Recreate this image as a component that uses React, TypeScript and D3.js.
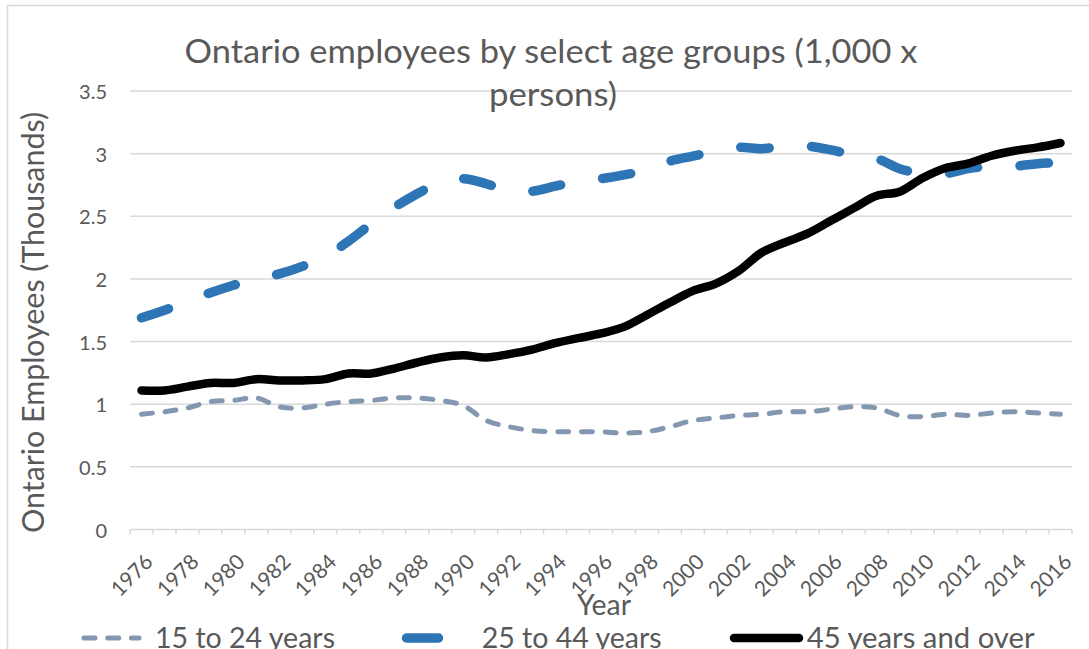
import React from 'react';
import * as d3 from 'd3';

const years = [
  1976, 1977, 1978, 1979, 1980, 1981, 1982, 1983, 1984, 1985, 1986, 1987, 1988, 1989,
  1990, 1991, 1992, 1993, 1994, 1995, 1996, 1997, 1998, 1999, 2000, 2001, 2002, 2003,
  2004, 2005, 2006, 2007, 2008, 2009, 2010, 2011, 2012, 2013, 2014, 2015, 2016,
];

const age15to24 = [
  0.92, 0.94, 0.97, 1.02, 1.03, 1.05, 0.98, 0.97, 1.0, 1.02, 1.03, 1.05, 1.05, 1.03,
  0.99, 0.87, 0.82, 0.79, 0.78, 0.78, 0.78, 0.77, 0.78, 0.82, 0.87, 0.89, 0.91, 0.92,
  0.94, 0.94, 0.96, 0.98, 0.97, 0.91, 0.9, 0.92, 0.91, 0.93, 0.94, 0.93, 0.92,
];

const age25to44 = [
  1.69, 1.75, 1.82, 1.89, 1.95, 2.0, 2.04, 2.1, 2.18, 2.3, 2.44, 2.57, 2.68, 2.77,
  2.8, 2.76, 2.7, 2.7, 2.74, 2.78, 2.8, 2.83, 2.87, 2.94, 2.98, 3.02, 3.05, 3.04,
  3.06, 3.06, 3.03, 2.99, 2.96, 2.88, 2.84, 2.84, 2.88, 2.9, 2.9, 2.92, 2.93,
];

const age45plus = [
  1.11, 1.11, 1.14, 1.17, 1.17, 1.2, 1.19, 1.19, 1.2, 1.245, 1.245, 1.285, 1.333, 1.373,
  1.391, 1.373, 1.4, 1.436, 1.487, 1.527, 1.565, 1.617, 1.713, 1.812, 1.905, 1.963, 2.065, 2.211,
  2.291, 2.363, 2.464, 2.565, 2.664, 2.696, 2.805, 2.885, 2.922, 2.983, 3.023, 3.05, 3.085,
];

const yTicks = [0, 0.5, 1, 1.5, 2, 2.5, 3, 3.5];
const yTickLabels = ['0', '0.5', '1', '1.5', '2', '2.5', '3', '3.5'];
const titleLines = ['Ontario employees by select age groups (1,000 x', 'persons)'];
const yAxisTitle = 'Ontario Employees (Thousands)';
const xAxisTitle = 'Year';
const seriesNames = ['15 to 24 years', '25 to 44 years', '45 years and over'];
const seriesColors = ['#8497B0', '#2E75B6', '#000000'];

const FONT = "Lato, 'Open Sans', sans-serif";
const TEXT = '#595959';
const GRID = '#D9D9D9';

export default function App() {
  const W = 1089;
  const H = 649;
  const left = 130;
  const right = 1072;
  const top = 91;
  const bottom = 529.5;

  const x = d3.scaleBand<number>().domain(years).range([left, right]).padding(0);
  const y = d3.scaleLinear().domain([0, 3.5]).range([bottom, top]);
  const cx = (yr: number) => (x(yr) as number) + x.bandwidth() / 2;

  const lineGen = d3
    .line<number>()
    .x((_, i) => cx(years[i]))
    .y((d) => y(d))
    .curve(d3.curveCatmullRom.alpha(0.5));

  const tickXs = years.map((yr) => x(yr) as number).concat([right]);

  const legendY = 638;

  return (
    <svg
      width={W}
      height={H}
      style={{ position: 'absolute', left: 0, top: 0, background: '#fff' }}
      fontFamily={FONT}
    >
      <rect x={0} y={0} width={W} height={H} fill="#fff" />
      <rect x={7.5} y={5.5} width={1200} height={800} fill="none" stroke={GRID} strokeWidth={1.5} />

      {/* gridlines */}
      {yTicks.slice(1).map((t) => (
        <line key={t} x1={left} x2={right} y1={y(t)} y2={y(t)} stroke={GRID} strokeWidth={1.5} />
      ))}
      {/* x axis */}
      <line x1={left} x2={right} y1={bottom} y2={bottom} stroke={GRID} strokeWidth={1.5} />
      {tickXs.map((tx, i) => (
        <line key={i} x1={tx} x2={tx} y1={bottom} y2={bottom + 5} stroke={GRID} strokeWidth={1.5} />
      ))}

      {/* y tick labels */}
      {yTicks.map((t, i) => (
        <text key={t} x={107} y={y(t) + 8} textAnchor="end" fontSize={20} fill={TEXT}>
          {yTickLabels[i]}
        </text>
      ))}

      {/* x tick labels */}
      {years.map((yr, i) =>
        i % 2 === 0 ? (
          <text
            key={yr}
            transform={`translate(${cx(yr) + 2},${bottom + 23}) rotate(-45)`}
            textAnchor="end"
            dy="0.72em"
            fontSize={21}
            fill={TEXT}
          >
            {yr}
          </text>
        ) : null
      )}

      {/* series */}
      <path
        d={lineGen(age25to44) || ''}
        fill="none"
        stroke={seriesColors[1]}
        strokeWidth={9.5}
        strokeDasharray="28.5 42.5"
        strokeLinecap="round"
        strokeLinejoin="round"
      />
      <path
        d={lineGen(age15to24) || ''}
        fill="none"
        stroke={seriesColors[0]}
        strokeWidth={5}
        strokeDasharray="11 12.7"
        strokeLinecap="round"
        strokeLinejoin="round"
      />
      <path
        d={lineGen(age45plus) || ''}
        fill="none"
        stroke={seriesColors[2]}
        strokeWidth={8.5}
        strokeLinecap="round"
        strokeLinejoin="round"
      />

      {/* title */}
      <text x={551} y={63} textAnchor="middle" fontSize={32.5} fill={TEXT} textLength={733} lengthAdjust="spacingAndGlyphs">
        {titleLines[0]}
      </text>
      <text x={553} y={106} textAnchor="middle" fontSize={32.5} fill={TEXT} textLength={128} lengthAdjust="spacingAndGlyphs">
        {titleLines[1]}
      </text>

      {/* axis titles */}
      <text
        transform={`translate(44,322.5) rotate(-90)`}
        textAnchor="middle"
        fontSize={30.5}
        fill={TEXT}
        textLength={421}
        lengthAdjust="spacingAndGlyphs"
      >
        {yAxisTitle}
      </text>
      <text x={604} y={615} textAnchor="middle" fontSize={28} fill={TEXT} textLength={54} lengthAdjust="spacingAndGlyphs">
        {xAxisTitle}
      </text>

      {/* legend */}
      <line x1={84} x2={139} y1={legendY} y2={legendY} stroke={seriesColors[0]} strokeWidth={5} strokeDasharray="11 12.7" strokeLinecap="round" />
      <text x={155} y={647.5} fontSize={28} fill={TEXT} textLength={180} lengthAdjust="spacingAndGlyphs">
        {seriesNames[0]}
      </text>
      <line x1={406.5} x2={438.5} y1={legendY} y2={legendY} stroke={seriesColors[1]} strokeWidth={9.5} strokeLinecap="round" />
      <text x={481.7} y={647.5} fontSize={28} fill={TEXT} textLength={180} lengthAdjust="spacingAndGlyphs">
        {seriesNames[1]}
      </text>
      <line x1={734} x2={799} y1={legendY} y2={legendY} stroke={seriesColors[2]} strokeWidth={8.5} strokeLinecap="round" />
      <text x={806.7} y={647.5} fontSize={28} fill={TEXT} textLength={228} lengthAdjust="spacingAndGlyphs">
        {seriesNames[2]}
      </text>
    </svg>
  );
}
